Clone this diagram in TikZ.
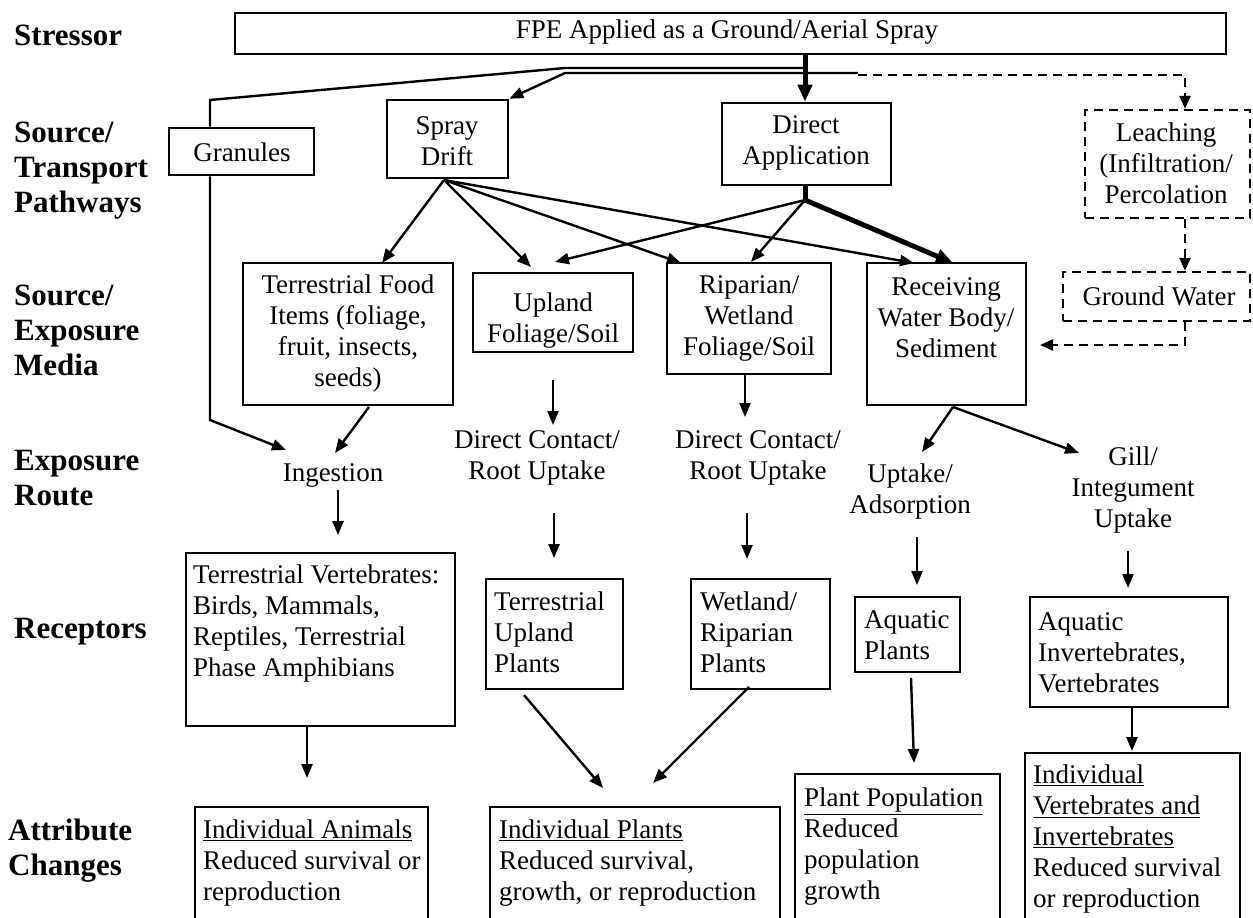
\documentclass[tikz,border=0pt]{standalone}
\usepackage{fontspec}
\setmainfont{Liberation Serif}
\usetikzlibrary{arrows.meta,fit}
\begin{document}
\begin{tikzpicture}[x=1pt,y=-1pt,
  box/.style={draw, line width=2.6pt, inner sep=0pt, rectangle},
  dbox/.style={draw, line width=2.4pt, dash pattern=on 9pt off 6pt, inner sep=0pt, rectangle},
  txt/.style={font=\fontsize{27}{31}\selectfont, align=center, inner sep=0pt},
  ltxt/.style={font=\fontsize{27}{31}\selectfont, align=left, inner sep=0pt, anchor=north west},
  lab/.style={font=\fontsize{31}{35}\selectfont\bfseries, align=left, inner sep=0pt, anchor=west},
  ln/.style={line width=2.4pt},
  arr/.style={line width=2.4pt, -{Triangle[length=14pt,width=11pt]}},
  tarr/.style={line width=5pt, -{Triangle[length=17pt,width=14pt]}},
  tln/.style={line width=5pt},
  darr/.style={line width=2.4pt, dash pattern=on 9pt off 6pt, -{Triangle[length=13pt,width=11pt]}},
]
\useasboundingbox (0,0) rectangle (1253,918);
\fill[white] (0,0) rectangle (1253,918);
\clip (0,0) rectangle (1253,918);

% row labels
\node[lab] (l1) at (14,35) {Stressor};
\node[lab] (l2) at (14,171) {Source/\\Transport\\Pathways};
\node[lab] (l3) at (14,330) {Source/\\Exposure\\Media};
\node[lab] (l4) at (14,478) {Exposure\\Route};
\node[lab] (l5) at (14,632) {Receptors};
\node[lab] (l6) at (8,851) {Attribute\\Changes};

% boxes
\node[box, fit={(235,13) (1226,54)}] (str) {};
\node[txt] (strT) at (727,32) {FPE Applied as a Ground/Aerial Spray};
\node[box, fit={(169,128) (314,175)}] (gran) {};
\node[txt] (granT) at (242,152) {Granules};
\node[box, fit={(387,100) (508,178)}] (sd) {};
\node[txt] (sdT) at (447,141) {Spray\\Drift};
\node[box, fit={(722,103) (891,185)}] (da) {};
\node[txt] (daT) at (806,143) {Direct\\Application};
\node[dbox, fit={(1085,110) (1250,218)}] (leach) {};
\node[txt] (leachT) at (1166,163) {Leaching\\(Infiltration/\\Percolation};

\node[box, fit={(243,263) (453,405)}] (tfi) {};
\node[txt] (tfiT) at (348,334) {Terrestrial Food\\Items (foliage,\\fruit, insects,\\seeds)};
\node[box, fit={(473,273) (633,352)}] (up) {};
\node[txt] (upT) at (553,321) {Upland\\Foliage/Soil};
\node[box, fit={(667,263) (831,374)}] (rip) {};
\node[txt] (ripT) at (749,318) {Riparian/\\Wetland\\Foliage/Soil};
\node[box, fit={(867,263) (1026,405)}] (rec) {};
\node[txt] (recT) at (946,318) {Receiving\\Water Body/\\Sediment};
\node[dbox, fit={(1063,272) (1250,321)}] (gw) {};
\node[txt] (gwT) at (1159,296) {Ground Water};

% exposure routes
\node[txt] (ing) at (333,475) {Ingestion};
\node[txt] (dc1) at (537,458) {Direct Contact/\\Root Uptake};
\node[txt] (dc2) at (758,458) {Direct Contact/\\Root Uptake};
\node[txt] (ua) at (910,492) {Uptake/\\Adsorption};
\node[txt] (gill) at (1133,490) {Gill/\\Integument\\Uptake};

% receptors
\node[box, fit={(186,553) (455,726)}] (tv) {};
\node[ltxt] (tvT) at (193,565) {Terrestrial Vertebrates:\\Birds, Mammals,\\Reptiles, Terrestrial\\Phase Amphibians};
\node[box, fit={(486,579) (623,689)}] (tup) {};
\node[ltxt] (tupT) at (494,592) {Terrestrial\\Upland\\Plants};
\node[box, fit={(691,579) (830,689)}] (wrp) {};
\node[ltxt] (wrpT) at (700,592) {Wetland/\\Riparian\\Plants};
\node[box, fit={(855,597) (960,672)}] (ap) {};
\node[ltxt] (apT) at (864,610) {Aquatic\\Plants};
\node[box, fit={(1030,597) (1228,707)}] (aiv) {};
\node[ltxt] (aivT) at (1038,612) {Aquatic\\Invertebrates,\\Vertebrates};

% attribute changes
\node[box, fit={(195,807) (428,940)}] (ia) {};
\node[ltxt] (iaT) at (203,820) {\underline{Individual Animals}\\Reduced survival or\\reproduction};
\node[box, fit={(490,807) (780,940)}] (ip) {};
\node[ltxt] (ipT) at (499,820) {\underline{Individual Plants}\\Reduced survival,\\growth, or reproduction};
\node[box, fit={(795,774) (1000,940)}] (pp) {};
\node[ltxt] (ppT) at (804,788) {\underline{Plant Population}\\Reduced\\population\\growth};
\node[box, fit={(1025,753) (1240,940)}] (iv) {};
\node[ltxt] (ivT) at (1033,765) {\underline{Individual}\\\underline{Vertebrates and}\\\underline{Invertebrates}\\Reduced survival\\or reproduction};

% coordinates
\coordinate (j1) at (805,68);
\coordinate (j2) at (565,68);
\coordinate (j3) at (210,100);
\coordinate (g1) at (210,420);
\coordinate (ingA) at (286,450);
\coordinate (s1) at (858,73);
\coordinate (s2) at (565,73);
\coordinate (d1) at (858,75);
\coordinate (d2) at (1185,75);
\coordinate (gx) at (1185,0);
\coordinate (d3) at (1185,345);
\coordinate (recR) at (1040,345);
\coordinate (sdo) at (444,180);
\coordinate (tfiA) at (382,263);
\coordinate (upA) at (531,267);
\coordinate (ripA) at (681,263);
\coordinate (recA) at (914,263);
\coordinate (dao) at (805,200);
\coordinate (upB) at (555,262);
\coordinate (ripB) at (751,262);
\coordinate (recB) at (953,263);
\coordinate (reco) at (953,407);
\coordinate (uaA) at (922,452);
\coordinate (gillA) at (1079,453);

% stressor connectors
\draw[tarr] (str.south -| dao) -- (da.north -| dao);
\draw[ln] (j1) -- (j2) -- (j3) -- (gran.north -| j3);
\draw[arr] (gran.south -| j3) -- (g1) -- (ingA);
\draw[arr] (s1) -- (s2) -- (sd.north east);
\draw[darr] (d1) -- (d2) -- (leach.north -| gx);
\draw[darr] (leach.south -| gx) -- (gw.north -| gx);
\draw[darr] (gw.south -| gx) -- (d3) -- (recR);

% spray drift fan
\draw[arr] (sdo) -- (tfiA);
\draw[arr] (sdo) -- (upA);
\draw[arr] (sdo) -- (ripA);
\draw[arr] (sdo) -- (recA);

% direct application fan
\draw[tln] (da.south -| dao) -- (dao);
\draw[arr] (dao) -- (upB);
\draw[arr] (dao) -- (ripB);
\draw[tarr] (dao) -- (recB);

% media to routes
\draw[arr] (369,407) -- (335,453);
\draw[arr] (553,380) -- (553,425);
\draw[arr] (745,375) -- (745,417);
\draw[arr] (reco) -- (uaA);
\draw[arr] (reco) -- (gillA);

% routes to receptors
\draw[arr] (338,490) -- (338,535);
\draw[arr] (554,513) -- (554,558);
\draw[arr] (747,513) -- (747,559);
\draw[arr] (917,537) -- (917,585);
\draw[arr] (1128,551) -- (1128,588);

% receptors to attributes
\draw[arr] (307,727) -- (307,778);
\draw[arr] (524,695) -- (603,788);
\draw[arr] (749,687) -- (653,783);
\draw[arr] (911,678) -- (914,763);
\draw[arr] (1132,706) -- (1132,751);
\end{tikzpicture}
\end{document}
